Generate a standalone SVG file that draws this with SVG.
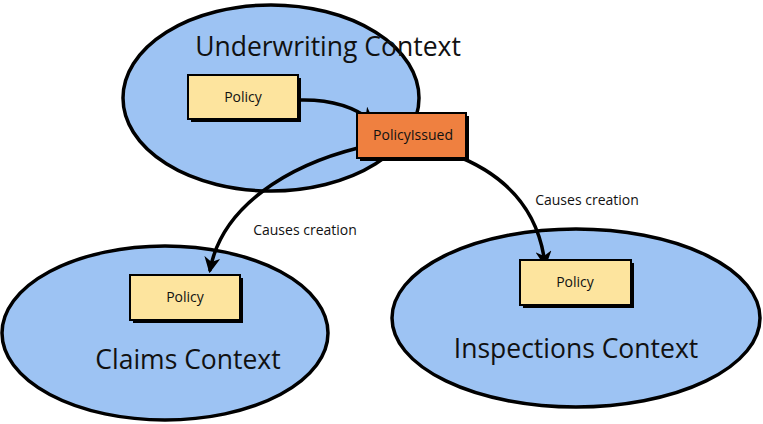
<svg xmlns="http://www.w3.org/2000/svg" width="763" height="424" viewBox="0 0 763 424">
<defs>
<style>
.ctx{fill:#9dc3f3;stroke:#000;stroke-width:3.5}
.box{stroke:#000;stroke-width:2}
.pol{fill:#fde49e}
.iss{fill:#ef8040}
.shadow{fill:#000}
.big{font-family:"Open Sans","DejaVu Sans",sans-serif;font-size:26.5px;fill:#111;text-anchor:middle}
.sm{font-family:"Open Sans","DejaVu Sans",sans-serif;font-size:14px;fill:#111;text-anchor:middle}
.lbl{font-family:"Open Sans","DejaVu Sans",sans-serif;font-size:14px;fill:#111;text-anchor:middle}
.conn{fill:none;stroke:#000;stroke-width:3.5;stroke-linecap:round}
</style>
<marker id="ah" viewBox="0 0 10 10" refX="8" refY="5" markerWidth="4.6" markerHeight="4.6" orient="auto" markerUnits="strokeWidth">
<path d="M0,0 L10,5 L0,10 L3,5 Z" fill="#000"/>
</marker>
</defs>
<rect width="763" height="424" fill="#fff"/>
<g id="underwriting">
<ellipse class="ctx" cx="271" cy="98" rx="148" ry="93"/>
<text class="big" x="328" y="56">Underwriting Context</text>
</g>
<g id="claims">
<ellipse class="ctx" cx="165" cy="333" rx="163" ry="87"/>
<text class="big" x="188" y="369">Claims Context</text>
</g>
<g id="inspections">
<ellipse class="ctx" cx="576" cy="318" rx="184" ry="89"/>
<text class="big" x="576" y="358">Inspections Context</text>
</g>
<g id="connectors">
<path class="conn" d="M300 100 Q345 99 372 121" marker-end="url(#ah)"/>
<path class="conn" d="M358 148 C290 165 222 205 210 270" marker-end="url(#ah)"/>
<path class="conn" d="M452 154 C500 172 538 205 545 264" marker-end="url(#ah)"/>
<text class="lbl" x="305" y="235">Causes creation</text>
<text class="lbl" x="587" y="205">Causes creation</text>
</g>
<g id="uw-policy">
<rect class="shadow" x="191" y="78" width="110" height="44"/>
<rect class="box pol" x="188" y="75" width="110" height="44"/>
<text class="sm" x="243" y="102">Policy</text>
</g>
<g id="policy-issued">
<rect class="shadow" x="360" y="116" width="109" height="45"/>
<rect class="box iss" x="357" y="113" width="109" height="45"/>
<text class="sm" x="413" y="140">PolicyIssued</text>
</g>
<g id="claims-policy">
<rect class="shadow" x="133" y="278" width="110" height="45"/>
<rect class="box pol" x="130" y="275" width="110" height="45"/>
<text class="sm" x="185" y="302">Policy</text>
</g>
<g id="insp-policy">
<rect class="shadow" x="523" y="263" width="111" height="45"/>
<rect class="box pol" x="520" y="260" width="111" height="45"/>
<text class="sm" x="575" y="287">Policy</text>
</g>
</svg>
